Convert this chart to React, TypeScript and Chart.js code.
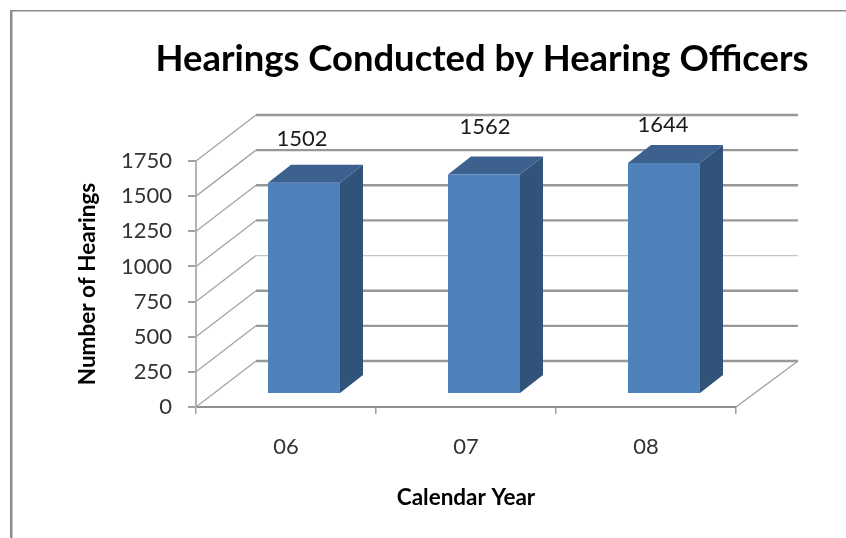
import React, { useEffect, useRef } from "react";
import { Chart, registerables } from "chart.js";

Chart.register(...registerables);

const categories = ["06", "07", "08"];
const hearings = [1502, 1562, 1644];
const yTickStep = 250;
const yMax = 1750;

const titleText = "Hearings Conducted by Hearing Officers";
const xTitle = "Calendar Year";
const yTitle = "Number of Hearings";

const FONT = "Lato, 'Open Sans', sans-serif";

// 3D projection constants, in pixels
const WALL_DX = 60;
const WALL_DY = -46;
const BAR_DX = 18;
const BAR_DY = -13;
const FACE_DX = 23;
const FACE_DY = -18;
const labelLift = [44, 48, 38];
const labelShift = [-2, 1, -1];

const line = (ctx: CanvasRenderingContext2D, x1: number, y1: number, x2: number, y2: number, color: string, w: number) => {
  ctx.beginPath();
  ctx.moveTo(x1, y1);
  ctx.lineTo(x2, y2);
  ctx.strokeStyle = color;
  ctx.lineWidth = w;
  ctx.stroke();
};

const poly = (ctx: CanvasRenderingContext2D, pts: number[][], color: string) => {
  ctx.beginPath();
  pts.forEach(([x, y], i) => (i ? ctx.lineTo(x, y) : ctx.moveTo(x, y)));
  ctx.closePath();
  ctx.fillStyle = color;
  ctx.fill();
};

const frame3d = {
  id: "frame3d",
  afterLayout(chart: any) {
    // the title sits right of the plot's centre
    chart.titleBlock.left += 114;
    chart.titleBlock.right += 114;
  },
  beforeDraw(chart: any) {
    const ctx = chart.ctx;
    ctx.save();
    ctx.fillStyle = "#ffffff";
    ctx.fillRect(0, 0, chart.width, chart.height);
    ctx.fillStyle = "#8c8c8c";
    ctx.fillRect(10, 10, 2.5, chart.height - 10);
    ctx.fillRect(10, 10, chart.width - 10, 1.5);
    ctx.restore();
  },
  beforeDatasetsDraw(chart: any) {
    const ctx = chart.ctx;
    const { left, right } = chart.chartArea;
    const y = chart.scales.y;
    ctx.save();
    y.ticks.forEach((t: any) => {
      const py = y.getPixelForValue(t.value);
      const thin = t.value === 750;
      line(ctx, left + WALL_DX, py + WALL_DY, right + WALL_DX + 2, py + WALL_DY, thin ? "#c4c4c4" : "#989898", thin ? 1.2 : 2.4);
      line(ctx, left, py, left + WALL_DX, py + WALL_DY, "#a4a4a4", 1.3);
    });
    const y0 = y.getPixelForValue(0);
    line(ctx, right, y0, right + WALL_DX + 2, y0 + WALL_DY, "#a0a0a0", 1.3);
    ctx.restore();
  },
  beforeDatasetDraw(chart: any, args: any) {
    const ctx = chart.ctx;
    ctx.save();
    ctx.translate(BAR_DX, BAR_DY);
    chart.getDatasetMeta(args.index).data.forEach((bar: any) => {
      const l = bar.x - bar.width / 2;
      const r = bar.x + bar.width / 2;
      poly(ctx, [[l, bar.y], [l + FACE_DX, bar.y + FACE_DY], [r + FACE_DX, bar.y + FACE_DY], [r, bar.y]], "#3d618f");
      poly(ctx, [[r, bar.y], [r + FACE_DX, bar.y + FACE_DY], [r + FACE_DX, bar.base + FACE_DY], [r, bar.base]], "#325379");
    });
  },
  afterDatasetDraw(chart: any, args: any) {
    const ctx = chart.ctx;
    ctx.restore();
    ctx.save();
    ctx.font = `22px ${FONT}`;
    ctx.fillStyle = "#1a1a1a";
    ctx.textAlign = "center";
    ctx.textBaseline = "middle";
    chart.getDatasetMeta(args.index).data.forEach((bar: any, i: number) => {
      const v = chart.data.datasets[args.index].data[i];
      ctx.fillText(String(v), bar.x + BAR_DX + labelShift[i], bar.y + BAR_DY - labelLift[i]);
    });
    ctx.restore();
  },
};

export default function App() {
  const ref = useRef<HTMLCanvasElement>(null);
  useEffect(() => {
    const chart = new Chart(ref.current!, {
      type: "bar",
      data: {
        labels: categories,
        datasets: [
          {
            data: hearings,
            backgroundColor: "#4f81bd",
            borderWidth: 0,
            barPercentage: 0.4,
            categoryPercentage: 1,
            clip: false,
          } as any,
        ],
      },
      options: {
        responsive: false,
        animation: false,
        layout: { padding: { left: 0, right: 110, top: 0, bottom: 0 } },
        plugins: {
          legend: { display: false },
          tooltip: { enabled: false },
          title: {
            display: true,
            text: titleText,
            color: "#000000",
            font: { family: FONT, size: 36.4, weight: "bold" },
            padding: { top: 37, bottom: 80.3 },
          },
        },
        scales: {
          x: {
            afterFit: (s: any) => {
              s.height = 131;
            },
            grid: { drawOnChartArea: false, drawTicks: true, tickLength: 7, color: "#a0a0a0", lineWidth: 1.5 },
            border: { color: "#909090", width: 2 },
            ticks: { color: "#333333", font: { family: FONT, size: 22 }, padding: 20 },
            title: {
              display: true,
              text: xTitle,
              color: "#000000",
              font: { family: FONT, size: 22.5, weight: "bold" },
              padding: { top: 0, bottom: 27 },
            },
          },
          y: {
            min: 0,
            max: yMax,
            afterFit: (s: any) => {
              s.width = 196;
            },
            ticks: {
              stepSize: yTickStep,
              color: "#333333",
              font: { family: FONT, size: 22 },
              padding: 16,
              callback: (v: any) => String(v),
            },
            grid: { drawOnChartArea: false, drawTicks: true, tickLength: 8, color: "#a0a0a0", lineWidth: 2 },
            border: { color: "#b4b4b4", width: 2 },
            title: {
              display: true,
              text: yTitle,
              color: "#000000",
              font: { family: FONT, size: 22.5, weight: "bold" },
              padding: { top: 74, bottom: 0 },
            },
          },
        },
      },
      plugins: [frame3d],
    } as any);
    return () => chart.destroy();
  }, []);
  return (
    <div style={{ position: "absolute", left: 0, top: 0, width: 846, height: 538 }}>
      <canvas ref={ref} width={846} height={538} style={{ display: "block", filter: "blur(0.5px)" }} />
    </div>
  );
}
